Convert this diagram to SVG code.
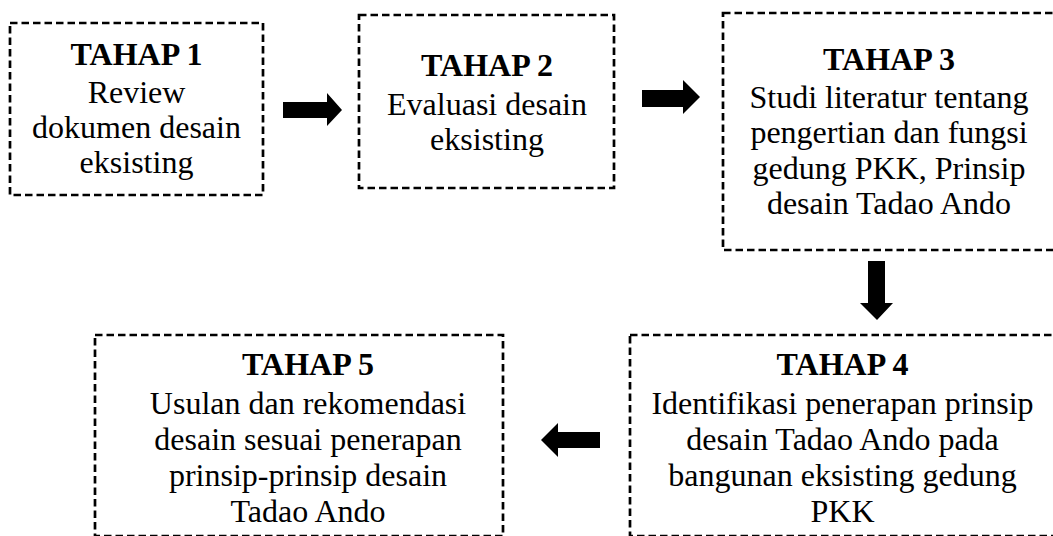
<svg xmlns="http://www.w3.org/2000/svg" width="1053" height="536" viewBox="0 0 1053 536">
<style>
.box{fill:none;stroke:#000;stroke-width:2.7;stroke-dasharray:7.5 4}
.t{font-family:'Liberation Serif','Times New Roman',Times,serif;font-size:32px;fill:#000;text-anchor:middle}
.b{font-weight:bold}
.arr{fill:#000}
</style>
<rect width="1053" height="536" fill="#fff"/>
<g id="node1">
<rect class="box" x="10" y="23" width="253" height="172"/>
<text class="t b" x="136.5" y="65">TAHAP 1</text>
<text class="t" x="136.5" y="103">Review</text>
<text class="t" x="136.5" y="138">dokumen desain</text>
<text class="t" x="136.5" y="173">eksisting</text>
</g>
<g id="node2">
<rect class="box" x="359" y="15" width="255" height="173"/>
<text class="t b" x="487" y="76">TAHAP 2</text>
<text class="t" x="487" y="115">Evaluasi desain</text>
<text class="t" x="487" y="150">eksisting</text>
</g>
<g id="node3">
<rect class="box" x="723" y="13" width="340" height="237"/>
<text class="t b" x="889" y="70">TAHAP 3</text>
<text class="t" x="889" y="108">Studi literatur tentang</text>
<text class="t" x="889" y="143">pengertian dan fungsi</text>
<text class="t" x="889" y="179">gedung PKK, Prinsip</text>
<text class="t" x="889" y="214">desain Tadao Ando</text>
</g>
<g id="node4">
<rect class="box" x="630" y="335" width="430" height="201"/>
<text class="t b" x="842.5" y="375">TAHAP 4</text>
<text class="t" x="842.5" y="414">Identifikasi penerapan prinsip</text>
<text class="t" x="842.5" y="450">desain Tadao Ando pada</text>
<text class="t" x="842.5" y="486">bangunan eksisting gedung</text>
<text class="t" x="842.5" y="522">PKK</text>
</g>
<g id="node5">
<rect class="box" x="95" y="335" width="408" height="201"/>
<text class="t b" x="308" y="375">TAHAP 5</text>
<text class="t" x="308" y="414">Usulan dan rekomendasi</text>
<text class="t" x="308" y="450">desain sesuai penerapan</text>
<text class="t" x="308" y="486">prinsip-prinsip desain</text>
<text class="t" x="308" y="522">Tadao Ando</text>
</g>
<g id="connectors">
<polygon class="arr" points="283,102 327,102 327,93 342,110 327,126 327,118 283,118"/>
<polygon class="arr" points="642,90 683,90 683,80 700,97 683,114 683,107 642,107"/>
<polygon class="arr" points="868,261 885,261 885,303 893,303 877,320 860,303 868,303"/>
<polygon class="arr" points="600,432 558,432 558,423 541,440 558,457 558,448 600,448"/>
</g>
</svg>
